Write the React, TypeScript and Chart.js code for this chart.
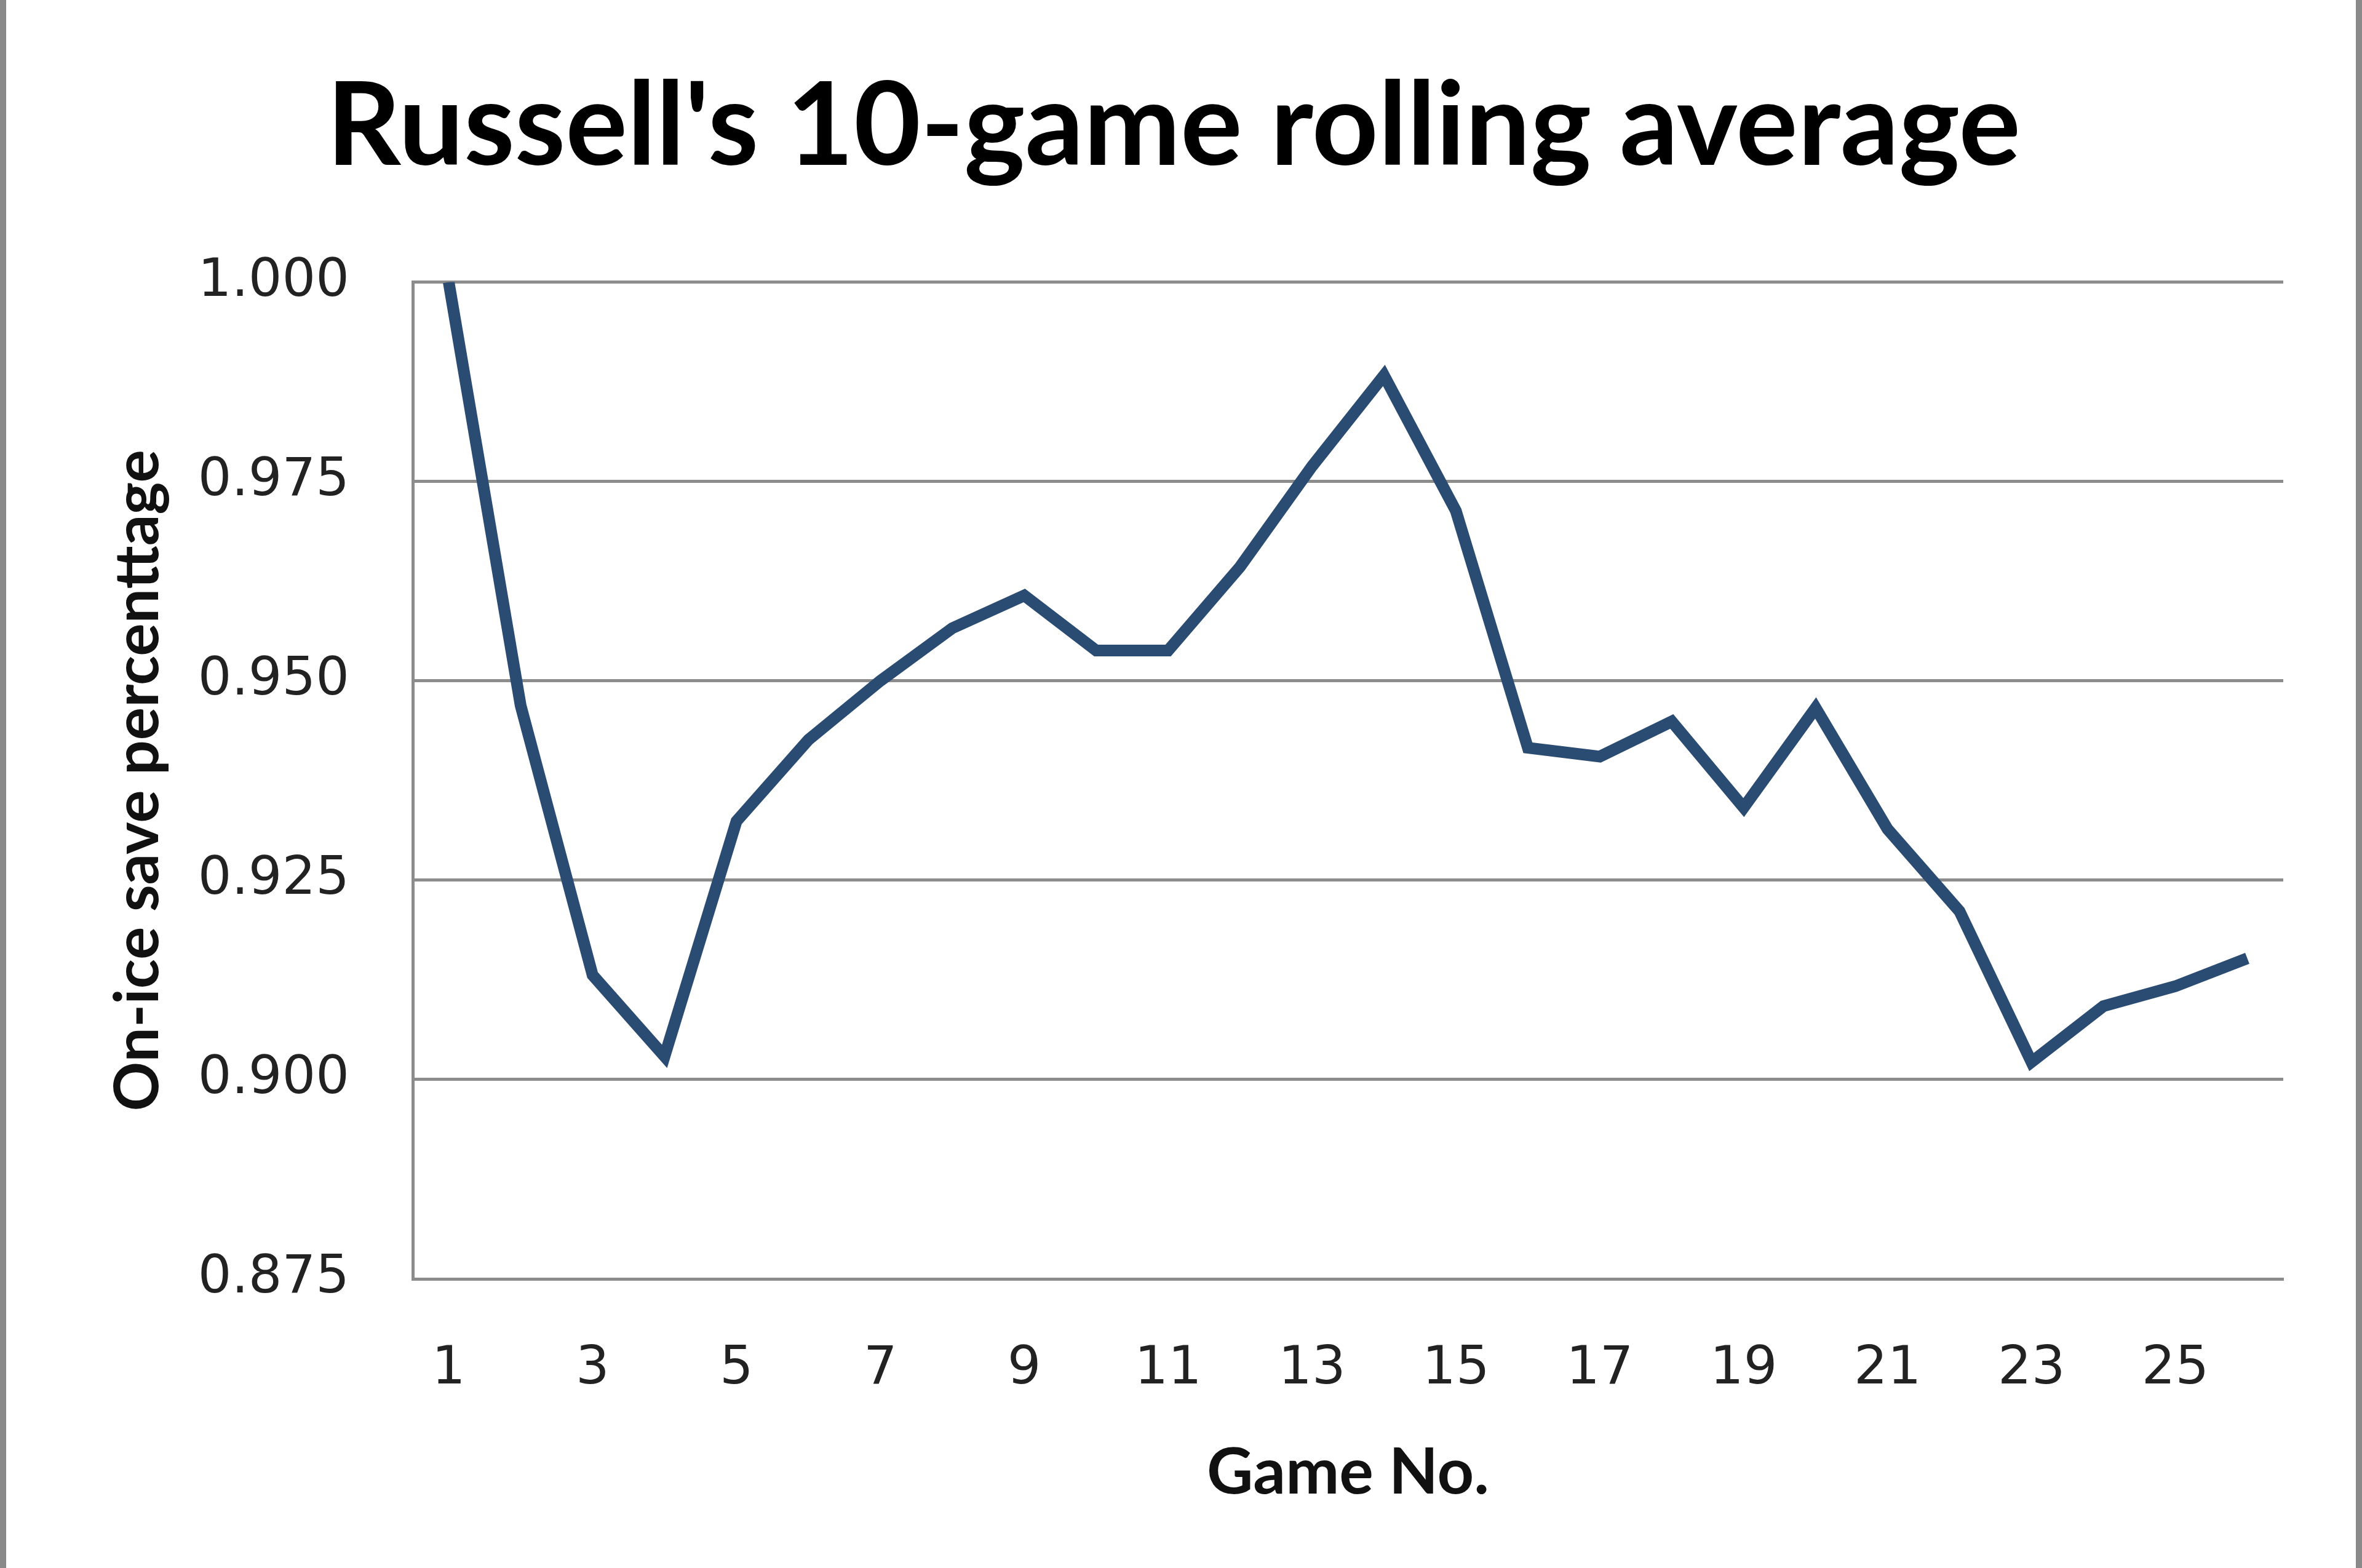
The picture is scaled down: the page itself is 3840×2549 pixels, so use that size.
import { useEffect, useRef } from "react"
import { Chart, registerables } from "chart.js"

Chart.register(...registerables)

const games = Array.from({ length: 26 }, (_, i) => String(i + 1))
const savePct = [
  1.0, 0.9469, 0.9131, 0.9029, 0.9324, 0.9426, 0.95, 0.9566, 0.9607, 0.9538,
  0.9538, 0.9643, 0.9769, 0.9883, 0.9713, 0.9416, 0.9405, 0.9449, 0.9341,
  0.9466, 0.9314, 0.9211, 0.9022, 0.9092, 0.9117, 0.9152,
]
const yTicks = [0.875, 0.9, 0.925, 0.95, 0.975, 1.0]

// gray frame on left and right edge, like the cropped Excel chart border
const sideBorders = {
  id: "sideBorders",
  beforeDraw(chart: Chart) {
    const { ctx, width, height } = chart
    ctx.save()
    ctx.fillStyle = "#ffffff"
    ctx.fillRect(0, 0, width, height)
    ctx.fillStyle = "#8a8a8a"
    ctx.fillRect(0, 0, 10, height)
    ctx.fillRect(width - 10, 0, 10, height)
    ctx.restore()
  },
}

export default function App() {
  const chartRef = useRef<HTMLCanvasElement>(null)
  const chartInstance = useRef<Chart | null>(null)

  useEffect(() => {
    document.body.style.margin = "0"
    if (!chartRef.current) return
    const ctx = chartRef.current.getContext("2d")
    if (!ctx) return

    if (chartInstance.current) {
      chartInstance.current.destroy()
    }

    const tickFont = { family: "'DejaVu Sans', Verdana, sans-serif", size: 86 }

    chartInstance.current = new Chart(ctx, {
      type: "line",
      data: {
        labels: games,
        datasets: [
          {
            label: "On-ice save percentage",
            data: savePct,
            borderColor: "#2b4c72",
            borderWidth: 19,
            pointRadius: 0,
            tension: 0,
            fill: false,
            borderJoinStyle: "miter",
          },
        ],
      },
      options: {
        animation: false,
        responsive: false,
        maintainAspectRatio: false,
        devicePixelRatio: 1,
        layout: {
          padding: { left: 10, right: 34, top: 0, bottom: 0 },
        },
        plugins: {
          legend: { display: false },
          tooltip: { enabled: false },
          title: {
            display: true,
            text: "Russell's 10-game rolling average",
            color: "#000000",
            font: { family: "Lato, sans-serif", size: 188, weight: "bold", lineHeight: 1.2 },
            padding: { top: 95, bottom: 138 },
          },
        },
        scales: {
          x: {
            offset: true,
            grid: { display: false, drawTicks: false },
            border: { display: true, color: "#8c8c8c", width: 5 },
            ticks: {
              autoSkip: false,
              maxRotation: 0,
              padding: 96,
              color: "#222222",
              font: tickFont,
              callback: (_v, i) => (i % 2 === 0 ? games[i] : ""),
            },
            title: {
              display: true,
              text: "Game No.",
              color: "#111111",
              font: { family: "Lato, sans-serif", size: 104, weight: "bold", lineHeight: 1.2 },
              padding: { top: 0, bottom: 92 },
            },
            afterFit: (scale) => {
              scale.height = 470
            },
          },
          y: {
            min: 0.875,
            max: 1.0,
            afterBuildTicks: (scale) => {
              scale.ticks = yTicks.map((v) => ({ value: v }))
            },
            grid: { color: "#8c8c8c", lineWidth: 5, drawTicks: false },
            border: { display: true, color: "#8c8c8c", width: 5 },
            ticks: {
              padding: 103,
              color: "#222222",
              font: tickFont,
              callback: (v) => Number(v).toFixed(3),
            },
            title: {
              display: true,
              text: "On-ice save percenttage",
              color: "#111111",
              font: { family: "Lato, sans-serif", size: 100, weight: "bold", lineHeight: 1.2 },
              padding: { top: 155, bottom: 0 },
            },
            afterFit: (scale) => {
              scale.width = 661
            },
          },
          // empty spacer on the right so the title centres like the original
          yRight: {
            position: "right",
            min: 0.875,
            max: 1.0,
            grid: { display: false, drawTicks: false },
            border: { display: false },
            ticks: { display: false },
            afterFit: (scale) => {
              scale.width = 94
            },
          },
        },
      },
      plugins: [sideBorders],
    })

    return () => {
      if (chartInstance.current) {
        chartInstance.current.destroy()
        chartInstance.current = null
      }
    }
  }, [])

  return (
    <div style={{ width: 3840, height: 2549 }}>
      <canvas ref={chartRef} width={3840} height={2549} style={{ display: "block" }} />
    </div>
  )
}
